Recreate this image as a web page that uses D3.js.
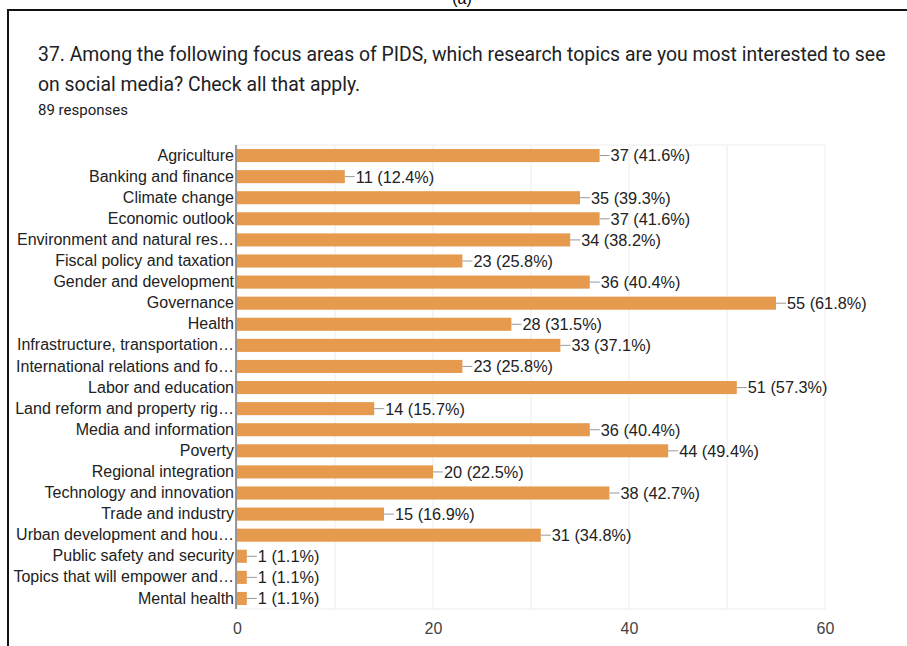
<!DOCTYPE html>
<html><head><meta charset="utf-8">
<script src="https://cdn.jsdelivr.net/npm/d3@7"></script>
<style>body{margin:0;background:#fff;} svg{display:block;}</style>
</head><body>
<svg id="c" width="907" height="646"></svg>
<script>
const categories = ["Agriculture","Banking and finance","Climate change","Economic outlook","Environment and natural res…","Fiscal policy and taxation","Gender and development","Governance","Health","Infrastructure, transportation…","International relations and fo…","Labor and education","Land reform and property rig…","Media and information","Poverty","Regional integration","Technology and innovation","Trade and industry","Urban development and hou…","Public safety and security","Topics that will empower and…","Mental health"];
const counts = [37,11,35,37,34,23,36,55,28,33,23,51,14,36,44,20,38,15,31,1,1,1];
const percents = ["41.6","12.4","39.3","41.6","38.2","25.8","40.4","61.8","31.5","37.1","25.8","57.3","15.7","40.4","49.4","22.5","42.7","16.9","34.8","1.1","1.1","1.1"];
const xTicks = [0,20,40,60];
const gridTicks = [0,10,20,30,40,50,60];

const svg = d3.select("#c");
// frame
svg.append("text").attr("x",462).attr("y",4).attr("text-anchor","middle")
  .attr("font-family","Arial, Liberation Sans, sans-serif").attr("font-size",16).attr("fill","#000").text("(a)");
svg.append("path").attr("d","M8,646 L8,10 L907,10").attr("fill","none").attr("stroke","#111").attr("stroke-width",2);

svg.append("text").attr("x",38).attr("y",61).attr("font-family","Roboto, sans-serif").attr("font-size",19.4).attr("fill","#202124")
  .text("37. Among the following focus areas of PIDS, which research topics are you most interested to see");
svg.append("text").attr("x",38).attr("y",91).attr("font-family","Roboto, sans-serif").attr("font-size",19.4).attr("fill","#202124")
  .text("on social media? Check all that apply.");
svg.append("text").attr("x",38).attr("y",115).attr("font-family","Roboto, sans-serif").attr("font-size",15).attr("fill","#202124")
  .text("89 responses");

const x = d3.scaleLinear().domain([0,60]).range([237,825]);
const y = d3.scaleBand().domain(categories).range([145,609]).paddingInner(0.38).paddingOuter(0.19);
const font = "Arial, 'Liberation Sans', sans-serif";

// grid
svg.append("g").selectAll("line").data(gridTicks).join("line")
  .attr("x1",d=>x(d)).attr("x2",d=>x(d)).attr("y1",145).attr("y2",609)
  .attr("stroke","#ececec").attr("stroke-width",1);
svg.append("line").attr("x1",237).attr("x2",825).attr("y1",145).attr("y2",145).attr("stroke","#ececec");
svg.append("line").attr("x1",237).attr("x2",825).attr("y1",609).attr("y2",609).attr("stroke","#ececec");

const data = categories.map((c,i)=>({c, v:counts[i], p:percents[i]}));
const g = svg.append("g");
g.selectAll("rect").data(data).join("rect")
  .attr("x",x(0)).attr("y",d=>y(d.c)).attr("width",d=>x(d.v)-x(0)).attr("height",y.bandwidth())
  .attr("fill","#e69a4d");
g.selectAll("line.lead").data(data).join("line").attr("class","lead")
  .attr("x1",d=>x(d.v)).attr("x2",d=>x(d.v)+10)
  .attr("y1",d=>y(d.c)+y.bandwidth()/2).attr("y2",d=>y(d.c)+y.bandwidth()/2)
  .attr("stroke","#999").attr("stroke-width",1);
g.selectAll("text.val").data(data).join("text").attr("class","val")
  .attr("x",d=>x(d.v)+11).attr("y",d=>y(d.c)+y.bandwidth()/2).attr("dy","0.36em")
  .attr("font-family",font).attr("font-size",16.3).attr("fill","#222")
  .text(d=>`${d.v} (${d.p}%)`);

// y axis labels
const yAxis = d3.axisLeft(y).tickSize(0).tickPadding(2);
const ya = svg.append("g").attr("transform","translate(236,0)").call(yAxis);
ya.select(".domain").attr("stroke","#333").attr("d","M0,145V609");
ya.selectAll("text").attr("font-family",font).attr("font-size",16).attr("fill","#222");

// x axis labels
const xAxis = d3.axisBottom(x).tickValues(xTicks).tickSize(0).tickPadding(14);
const xa = svg.append("g").attr("transform","translate(0,609)").call(xAxis);
xa.select(".domain").remove();
xa.selectAll("text").attr("font-family",font).attr("font-size",16).attr("fill","#444");
</script>
</body></html>
